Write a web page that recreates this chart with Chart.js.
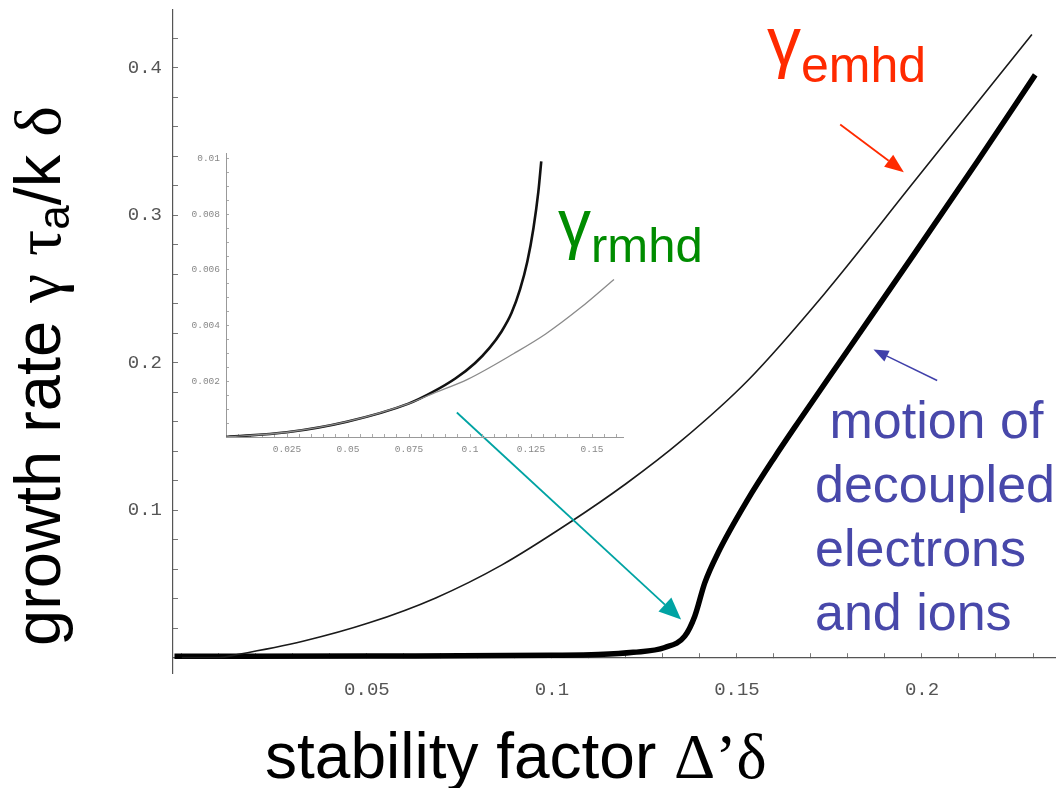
<!DOCTYPE html>
<html>
<head>
<meta charset="utf-8">
<script src="https://cdn.jsdelivr.net/npm/chart.js@4.4.1/dist/chart.umd.min.js"></script>
<style>
  html, body { margin: 0; padding: 0; background: #fff; }
  #wrap { position: relative; width: 1059px; height: 788px; overflow: hidden;
          font-family: "Liberation Sans", Arial, sans-serif; }
  canvas { position: absolute; }
  #mainChart { left: 0; top: 0; }
  #insetChart { left: 160px; top: 143px; }
  .txt { position: absolute; white-space: pre; line-height: 1; }
  .greek { font-family: "Liberation Serif", "DejaVu Serif", serif; }
  #yTitle { left: 0; top: 0; font-size: 65px; color: #000;
            transform-origin: 0 0; transform: translate(5px, 646px) rotate(-90deg); }
  #xTitle { left: 265px; top: 724px; font-size: 64px; color: #000; }
  #emhd { left: 767px; top: 7px; font-size: 68px; color: #ff2a00; }
  #rmhd { left: 558px; top: 190px; font-size: 66px; color: #008c00; }
  #note { left: 815px; top: 388px; font-size: 52px; line-height: 64px; color: #4848aa; }
</style>
</head>
<body>
<div id="wrap">
  <canvas id="mainChart" width="1059" height="788"></canvas>
  <canvas id="insetChart" width="470" height="320"></canvas>
  <div class="txt" id="yTitle">growth rate <span class="greek">γ</span> <span class="greek">τ</span><span style="font-size:44px;vertical-align:-9px">a</span>/k <span class="greek">δ</span></div>
  <div class="txt" id="xTitle">stability factor <span class="greek">Δ’δ</span></div>
  <div class="txt" id="emhd">γ<span style="font-size:50px;vertical-align:-17px">emhd</span></div>
  <div class="txt" id="rmhd">γ<span style="font-size:49px;vertical-align:-16px">rmhd</span></div>
  <div class="txt" id="note"> motion of
decoupled
electrons
and ions</div>
</div>
<script>
// main plot: growth rate vs stability factor
const emhdX = [0, 0.010, 0.015, 0.0327, 0.0506, 0.0686, 0.0865, 0.1045, 0.120, 0.135, 0.153, 0.1736, 0.198, 0.2297];
const emhdY = [0, 0, 0.002, 0.011, 0.0235, 0.0404, 0.0628, 0.0910, 0.1178, 0.147, 0.188, 0.2465, 0.323, 0.4224];

const decoupledX = [-0.002, 0.05, 0.1, 0.1125, 0.122, 0.1305, 0.1359, 0.1386, 0.1413, 0.1449, 0.1529, 0.1601, 0.1664, 0.180, 0.198, 0.215, 0.2306];
const decoupledY = [0.0008, 0.001, 0.0015, 0.002, 0.0035, 0.0068, 0.0145, 0.028, 0.0506, 0.071, 0.107, 0.1355, 0.159, 0.2085, 0.274, 0.3365, 0.395];

// inset: small growth rate region
const insetThickX = [0, 0.0249, 0.0495, 0.0748, 0.085, 0.094, 0.102, 0.108, 0.113, 0.117, 0.1205, 0.1235, 0.126, 0.128, 0.1292];
const insetThickY = [0, 0.00017, 0.00055, 0.0012, 0.00163, 0.0021, 0.00265, 0.0032, 0.0038, 0.00445, 0.0053, 0.0063, 0.0075, 0.0088, 0.0099];
const insetThinX = [0, 0.0249, 0.0495, 0.0748, 0.085, 0.099, 0.118, 0.131, 0.145, 0.159];
const insetThinY = [0, 0.00017, 0.00055, 0.0012, 0.00157, 0.00207, 0.0030, 0.0037, 0.00462, 0.00566];

// tick labels
const mainXLabels = [0.05, 0.1, 0.15, 0.2];
const mainYLabels = [0.1, 0.2, 0.3, 0.4];
const insetXLabels = [0.025, 0.05, 0.075, 0.1, 0.125, 0.15];
const insetYLabels = [0.002, 0.004, 0.006, 0.008, 0.01];

// annotation arrows, in data coordinates of the main plot
const arrows = [
  { from: [0.0743, 0.1661], to: [0.1349, 0.0258], color: '#00a3a3', width: 1.8, head: 22, headW: 19 },
  { from: [0.1779, 0.3614], to: [0.1951, 0.3290], color: '#ff2a00', width: 1.8, head: 19, headW: 15 },
  { from: [0.2041, 0.1878], to: [0.1869, 0.2088], color: '#4040aa', width: 1.5, head: 15, headW: 12 }
];

const pairs = (xs, ys) => xs.map((x, i) => ({ x, y: ys[i] }));
const onStep = (v, step) => Math.abs(v / step - Math.round(v / step)) < 1e-6;
const labelFor = (v, list) => {
  const hit = list.find(l => Math.abs(l - v) < 1e-9);
  return hit === undefined ? '' : String(hit);
};
// keep the plot area where the axes are, not where the labels would push it
const noLabelPadding = s => { s.paddingTop = 0; s.paddingBottom = 0; };

const arrowPlugin = {
  id: 'arrows',
  afterDraw(chart) {
    const { ctx } = chart;
    const sx = chart.scales.x, sy = chart.scales.y;
    arrows.forEach(a => {
      const x1 = sx.getPixelForValue(a.from[0]), y1 = sy.getPixelForValue(a.from[1]);
      const x2 = sx.getPixelForValue(a.to[0]), y2 = sy.getPixelForValue(a.to[1]);
      const ang = Math.atan2(y2 - y1, x2 - x1);
      const bx = x2 - a.head * Math.cos(ang), by = y2 - a.head * Math.sin(ang);
      const hw = a.headW / 2;
      ctx.save();
      ctx.strokeStyle = a.color;
      ctx.fillStyle = a.color;
      ctx.lineWidth = a.width;
      ctx.beginPath();
      ctx.moveTo(x1, y1);
      ctx.lineTo(bx, by);
      ctx.stroke();
      ctx.beginPath();
      ctx.moveTo(x2, y2);
      ctx.lineTo(bx + hw * Math.sin(ang), by - hw * Math.cos(ang));
      ctx.lineTo(bx - hw * Math.sin(ang), by + hw * Math.cos(ang));
      ctx.closePath();
      ctx.fill();
      ctx.restore();
    });
  }
};

const mainTickFont = { family: 'Liberation Mono', size: 19 };
const insetTickFont = { family: 'Liberation Mono', size: 9.5 };

new Chart(document.getElementById('mainChart'), {
  type: 'line',
  data: {
    datasets: [
      { data: pairs(emhdX, emhdY), borderColor: '#1a1a1a', borderWidth: 1.6, pointRadius: 0, cubicInterpolationMode: 'monotone' },
      { data: pairs(decoupledX, decoupledY), borderColor: '#000', borderWidth: 5.5, pointRadius: 0, cubicInterpolationMode: 'monotone' }
    ]
  },
  options: {
    responsive: false,
    animation: false,
    events: [],
    layout: { padding: { top: 10, right: 0, bottom: 115, left: 0 } },
    plugins: { legend: { display: false }, tooltip: { enabled: false } },
    scales: {
      x: {
        type: 'linear', min: -0.0024, max: 0.2361, position: { y: 0 },
        grid: { drawOnChartArea: false, tickLength: -5, tickColor: '#777' },
        border: { color: '#555', width: 1.2 },
        ticks: { stepSize: 0.01, includeBounds: false, autoSkip: false, maxRotation: 0, padding: 26, color: '#555', font: mainTickFont,
                 callback: v => labelFor(v, mainXLabels) },
        afterBuildTicks: s => { s.ticks = s.ticks.filter(t => t.value > -1e-9 && onStep(t.value, 0.01)); }
      },
      y: {
        type: 'linear', min: -0.0105, max: 0.439, position: 'left',
        grid: { drawOnChartArea: false, tickLength: -5, tickColor: '#777' },
        border: { color: '#555', width: 1.2 },
        ticks: { stepSize: 0.02, includeBounds: false, autoSkip: false, padding: 16, color: '#555', font: mainTickFont,
                 callback: v => labelFor(v, mainYLabels) },
        afterBuildTicks: s => { s.ticks = s.ticks.filter(t => t.value > -1e-9 && onStep(t.value, 0.02)); },
        afterFit: s => { s.width = 173; noLabelPadding(s); }
      }
    }
  },
  plugins: [arrowPlugin]
});

new Chart(document.getElementById('insetChart'), {
  type: 'line',
  data: {
    datasets: [
      { data: pairs(insetThinX, insetThinY), borderColor: '#8a8a8a', borderWidth: 1.3, pointRadius: 0, cubicInterpolationMode: 'monotone' },
      { data: pairs(insetThickX, insetThickY), borderColor: '#111', borderWidth: 2.6, pointRadius: 0, cubicInterpolationMode: 'monotone' }
    ]
  },
  options: {
    responsive: false,
    animation: false,
    events: [],
    layout: { padding: { top: 10, right: 7, bottom: 0, left: 0 } },
    plugins: { legend: { display: false }, tooltip: { enabled: false } },
    scales: {
      x: {
        type: 'linear', min: 0, max: 0.1627, position: 'bottom',
        grid: { drawOnChartArea: false, tickLength: -3, tickColor: '#aaa' },
        border: { color: '#999', width: 1 },
        ticks: { stepSize: 0.005, includeBounds: false, autoSkip: false, maxRotation: 0, padding: 10, color: '#888', font: insetTickFont,
                 callback: v => labelFor(v, insetXLabels) },
        afterBuildTicks: s => { s.ticks = s.ticks.filter(t => onStep(t.value, 0.005)); },
        afterFit: s => { s.height = 26; }
      },
      y: {
        type: 'linear', min: 0, max: 0.0102, position: 'left',
        grid: { drawOnChartArea: false, tickLength: -3, tickColor: '#aaa' },
        border: { color: '#999', width: 1 },
        ticks: { stepSize: 0.0005, includeBounds: false, autoSkip: false, padding: 9, color: '#888', font: insetTickFont,
                 callback: v => labelFor(v, insetYLabels) },
        afterBuildTicks: s => { s.ticks = s.ticks.filter(t => onStep(t.value, 0.0005)); },
        afterFit: s => { s.width = 66; noLabelPadding(s); }
      }
    }
  }
});
</script>
</body>
</html>
